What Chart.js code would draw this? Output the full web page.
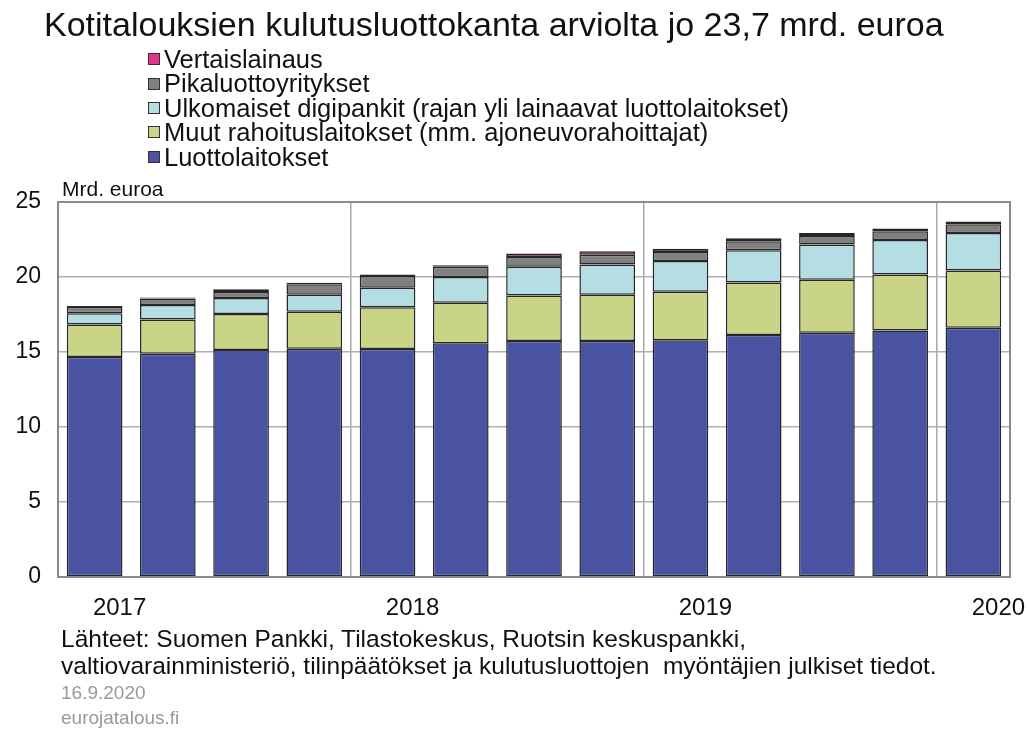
<!DOCTYPE html>
<html>
<head>
<meta charset="utf-8">
<script src="https://cdn.jsdelivr.net/npm/chart.js@4.4.1/dist/chart.umd.min.js"></script>
<style>
  html, body { margin: 0; padding: 0; background: #fff; }
  body { width: 1029px; height: 729px; position: relative; overflow: hidden; font-family: "Liberation Sans", Arial, sans-serif; }
  #wrap { position: absolute; left: 0; top: 0; width: 1029px; height: 729px; }
  .txt { position: absolute; white-space: nowrap; color: #111; line-height: normal; }
  #title { left: 44px; top: 5px; font-size: 34px; }
  #legend { position: absolute; left: 148px; top: 47px; }
  .li { height: 24.4px; font-size: 25.5px; line-height: 24.4px; display: flex; align-items: center; color: #111; white-space: nowrap; }
  .sw { width: 10px; height: 10px; border: 1px solid #333; margin-right: 4px; flex: none; }
  #unit { left: 62px; top: 177px; font-size: 21px; }
  #src1 { left: 61px; top: 625px; font-size: 24.5px; }
  #src2 { left: 61px; top: 652px; font-size: 24.5px; }
  #date { left: 61px; top: 682px; font-size: 19px; color: #999; }
  #site { left: 61px; top: 707px; font-size: 19px; color: #999; }
</style>
</head>
<body>
<div id="wrap"><canvas id="c" width="1029" height="729"></canvas></div>
<div class="txt" id="title">Kotitalouksien kulutusluottokanta arviolta jo 23,7 mrd. euroa</div>
<div id="legend"></div>
<div class="txt" id="unit">Mrd. euroa</div>
<div class="txt" id="src1">Lähteet: Suomen Pankki, Tilastokeskus, Ruotsin keskuspankki,</div>
<div class="txt" id="src2">valtiovarainministeriö, tilinpäätökset ja kulutusluottojen&nbsp; myöntäjien julkiset tiedot.</div>
<div class="txt" id="date">16.9.2020</div>
<div class="txt" id="site">eurojatalous.fi</div>
<script>
// Quarterly categories 2017Q1 ... 2020Q1
const categories = ["2017Q1","2017Q2","2017Q3","2017Q4","2018Q1","2018Q2","2018Q3","2018Q4","2019Q1","2019Q2","2019Q3","2019Q4","2020Q1"];
const yearLabels = {"2017Q1":"2017","2018Q1":"2018","2019Q1":"2019","2020Q1":"2020"};
const yTicks = [0, 5, 10, 15, 20, 25];

const luottolaitokset   = [14.67, 14.89, 15.13, 15.22, 15.20, 15.58, 15.73, 15.73, 15.78, 16.13, 16.29, 16.44, 16.62];
const muutRahoitus      = [2.17, 2.27, 2.40, 2.47, 2.78, 2.71, 3.03, 3.09, 3.24, 3.51, 3.53, 3.72, 3.82];
const ulkomaisetDigi    = [0.74, 0.97, 1.07, 1.13, 1.31, 1.71, 1.93, 2.02, 2.05, 2.14, 2.34, 2.31, 2.50];
const pikaluotto        = [0.42, 0.43, 0.40, 0.69, 0.78, 0.69, 0.64, 0.64, 0.60, 0.60, 0.58, 0.58, 0.58];
const vertaislainaus    = [0.07, 0.08, 0.18, 0.11, 0.09, 0.09, 0.23, 0.23, 0.22, 0.20, 0.19, 0.19, 0.18];

const seriesNames = ["Luottolaitokset", "Muut rahoituslaitokset (mm. ajoneuvorahoittajat)", "Ulkomaiset digipankit (rajan yli lainaavat luottolaitokset)", "Pikaluottoyritykset", "Vertaislainaus"];
const seriesColors = ["#4A52A2", "#C9D486", "#B4DDE4", "#808080", "#E3338A"];
const seriesData = [luottolaitokset, muutRahoitus, ulkomaisetDigi, pikaluotto, vertaislainaus];

const datasets = seriesNames.map((n, i) => ({
  label: n,
  data: seriesData[i],
  backgroundColor: i === 4 ? "#A3204F" : seriesColors[i],
  borderColor: "#262626",
  borderWidth: 1.5,
  borderSkipped: false,
  barPercentage: 0.76,
  categoryPercentage: 1.0
}));

// HTML legend (reverse order, like the reference)
const lg = document.getElementById('legend');
for (let i = seriesNames.length - 1; i >= 0; i--) {
  const row = document.createElement('div'); row.className = 'li';
  const sw = document.createElement('span'); sw.className = 'sw'; sw.style.background = seriesColors[i];
  const t = document.createElement('span'); t.textContent = seriesNames[i];
  row.appendChild(sw); row.appendChild(t); lg.appendChild(row);
}

const frame = {
  id: 'frame',
  afterDatasetsDraw(chart) {
    const a = chart.chartArea, ctx = chart.ctx;
    ctx.save();
    ctx.strokeStyle = '#8a8a8a';
    ctx.lineWidth = 2;
    ctx.strokeRect(a.left, a.top, a.right - a.left, a.bottom - a.top);
    ctx.restore();
  }
};

new Chart(document.getElementById('c'), {
  type: 'bar',
  data: { labels: categories, datasets },
  options: {
    responsive: false,
    animation: false,
    layout: { padding: { top: 202, right: 19, left: 0, bottom: 0 } },
    plugins: { legend: { display: false }, title: { display: false }, tooltip: { enabled: false } },
    scales: {
      x: {
        stacked: true,
        offset: true,
        afterFit(s) { s.height = 152; },
        grid: {
          offset: true,
          drawTicks: false,
          color: (ctx) => (ctx.index === 4 || ctx.index === 8 || ctx.index === 12) ? '#a8a8a8' : 'rgba(0,0,0,0)',
          lineWidth: 1.5
        },
        border: { display: true, color: '#8a8a8a', width: 2 },
        ticks: {
          autoSkip: false,
          maxRotation: 0,
          padding: 17,
          labelOffset: 25,
          color: '#111',
          font: { family: "Liberation Sans", size: 24 },
          callback: function (v, i) { return yearLabels[categories[i]] || ''; }
        }
      },
      y: {
        stacked: true,
        min: 0, max: 25,
        afterFit(s) { s.width = 58; },
        afterBuildTicks(s) { s.ticks = yTicks.map(v => ({ value: v })); },
        grid: { drawTicks: false, color: '#b0b0b0', lineWidth: 1.5 },
        border: { display: true, color: '#8a8a8a', width: 2 },
        ticks: {
          padding: 17,
          color: '#111',
          font: { family: "Liberation Sans", size: 23 }
        }
      }
    }
  },
  plugins: [frame]
});
</script>
</body>
</html>
